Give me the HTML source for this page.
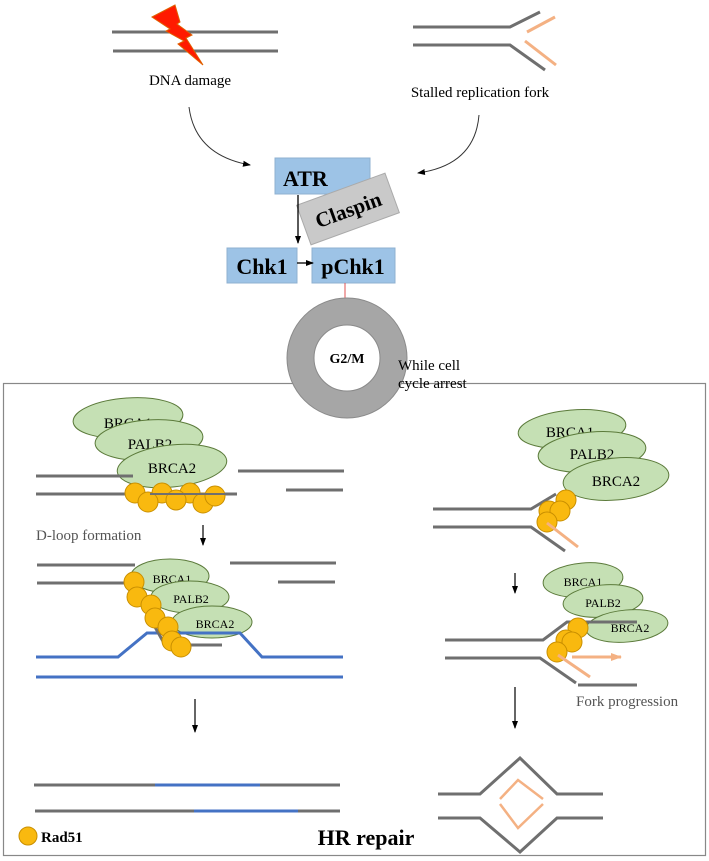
<!DOCTYPE html>
<html><head><meta charset="utf-8"><style>
html,body{margin:0;padding:0;background:#fff;}
svg{display:block;font-family:"Liberation Serif",serif;}
</style></head><body>
<svg width="709" height="861" viewBox="0 0 709 861" xmlns="http://www.w3.org/2000/svg">
<defs>
<marker id="ah" markerWidth="8" markerHeight="8" refX="7" refY="4" orient="auto" markerUnits="userSpaceOnUse"><path d="M0,1 L8,4 L0,7 Z" fill="#000"/></marker>
<marker id="oh" markerWidth="12" markerHeight="10" refX="10" refY="5" orient="auto" markerUnits="userSpaceOnUse"><path d="M0,1 L11,5 L0,9 Z" fill="#f4b183"/></marker>
</defs>
<g stroke="#6f6f6f" stroke-width="3" fill="none">
<line x1="112" y1="32" x2="278" y2="32"/><line x1="113" y1="51" x2="278" y2="51"/>
<polyline points="413,27 510,27 540,12"/><polyline points="413,45 510,45 545,70"/>
</g>
<g stroke="#f4b183" stroke-width="3" fill="none"><line x1="527" y1="32" x2="555" y2="17"/><line x1="525" y1="41" x2="556" y2="65"/></g>
<polygon points="152,17 175,5 180,22 177,24 192,35 186,38 203,65 178,44 184,41 166,31 170,29" fill="#ff1a00" stroke="#e06000" stroke-width="1"/>
<text x="190" y="85" font-size="15" text-anchor="middle">DNA damage</text>
<text x="480" y="97" font-size="15" text-anchor="middle">Stalled replication fork</text>
<path d="M189,107 Q195,155 250,165" stroke="#333" stroke-width="1" fill="none" marker-end="url(#ah)"/>
<path d="M479,115 Q475,165 418,173" stroke="#333" stroke-width="1" fill="none" marker-end="url(#ah)"/>
<rect x="275" y="158" width="95" height="36" fill="#9dc3e6" stroke="#8fb0d0"/>
<text x="283" y="186" font-size="22" font-weight="bold">ATR</text>
<g transform="rotate(-20 348 209)"><rect x="301" y="188" width="94" height="42" fill="#c9c9c9" stroke="#aaa"/>
<text x="348" y="217" font-size="21" font-weight="bold" text-anchor="middle">Claspin</text></g>
<line x1="298" y1="195" x2="298" y2="243" stroke="#000" stroke-width="1.3" marker-end="url(#ah)"/>
<rect x="227" y="248" width="70" height="35" fill="#9dc3e6" stroke="#8fb0d0"/>
<text x="262" y="274" font-size="22" font-weight="bold" text-anchor="middle">Chk1</text>
<rect x="312" y="248" width="83" height="35" fill="#9dc3e6" stroke="#8fb0d0"/>
<text x="353" y="274" font-size="22" font-weight="bold" text-anchor="middle">pChk1</text>
<line x1="297" y1="263" x2="313" y2="263" stroke="#000" stroke-width="1.3" marker-end="url(#ah)"/>
<line x1="345" y1="283" x2="345" y2="300" stroke="#e05050" stroke-width="1"/><line x1="338" y1="300" x2="353" y2="300" stroke="#e05050" stroke-width="1.2"/>
<rect x="3.5" y="383.5" width="702" height="472" fill="none" stroke="#888" stroke-width="1.2"/>
<circle cx="347" cy="358" r="46.5" fill="none" stroke="#a6a6a6" stroke-width="27"/>
<circle cx="347" cy="358" r="60" fill="none" stroke="#8a8a8a" stroke-width="1"/>
<circle cx="347" cy="358" r="33" fill="#fff" stroke="#8a8a8a" stroke-width="1"/>
<text x="347" y="363" font-size="14" font-weight="bold" text-anchor="middle">G2/M</text>
<text x="398" y="370" font-size="15">While cell</text>
<text x="398" y="388" font-size="15">cycle arrest</text>
<!-- left panel 1 -->
<g stroke="#5b7a3a" stroke-width="1" font-size="15" text-anchor="middle">
<ellipse cx="128" cy="418" rx="55" ry="20" transform="rotate(-4 128 418)" fill="#c5e0b4"/>
<text x="128" y="428" stroke="none">BRCA1</text>
<ellipse cx="149" cy="440" rx="54" ry="20" transform="rotate(-4 149 440)" fill="#c5e0b4"/>
<text x="150" y="449" stroke="none">PALB2</text>
<ellipse cx="172" cy="466" rx="55" ry="21" transform="rotate(-6 172 466)" fill="#c5e0b4"/>
<text x="172" y="473" stroke="none">BRCA2</text>
</g>
<g stroke="#6f6f6f" stroke-width="3" fill="none">
<line x1="36" y1="476" x2="133" y2="476"/><line x1="36" y1="494" x2="237" y2="494"/>
<line x1="238" y1="471" x2="344" y2="471"/><line x1="286" y1="490" x2="343" y2="490"/>
</g>
<g fill="#f9b90f" stroke="#c98f00" stroke-width="1">
<circle cx="135" cy="493" r="10"/><circle cx="162" cy="493" r="10"/><circle cx="190" cy="493" r="10"/>
<circle cx="148" cy="502" r="10"/><circle cx="176" cy="500" r="10"/><circle cx="203" cy="503" r="10"/><circle cx="215" cy="496" r="10"/>
</g>
<line x1="150" y1="494" x2="236" y2="494" stroke="#6f6f6f" stroke-width="2"/>
<text x="36" y="540" font-size="15" fill="#555">D-loop formation</text>
<line x1="203" y1="525" x2="203" y2="545" stroke="#000" stroke-width="1.2" marker-end="url(#ah)"/>
<!-- left panel 2 -->
<g stroke="#6f6f6f" stroke-width="3" fill="none">
<line x1="37" y1="565" x2="135" y2="565"/><line x1="37" y1="583" x2="135" y2="583"/>
<line x1="230" y1="563" x2="336" y2="563"/><line x1="278" y1="582" x2="335" y2="582"/>
</g>
<g stroke="#5b7a3a" stroke-width="1" font-size="12" text-anchor="middle">
<ellipse cx="170" cy="576" rx="39" ry="17" fill="#c5e0b4"/>
<text x="172" y="583" stroke="none">BRCA1</text>
<ellipse cx="190" cy="597" rx="39" ry="16" fill="#c5e0b4"/>
<text x="191" y="603" stroke="none">PALB2</text>
<ellipse cx="212" cy="622" rx="40" ry="16" fill="#c5e0b4"/>
<text x="215" y="628" stroke="none">BRCA2</text>
</g>
<g stroke="#4472c4" stroke-width="3" fill="none">
<polyline points="36,657 118,657 147,633 240,633 262,657 343,657"/>
<line x1="36" y1="677" x2="343" y2="677"/>
</g>
<polyline points="140,600 165,645 222,645" stroke="#6f6f6f" stroke-width="3" fill="none"/>
<g fill="#f9b90f" stroke="#c98f00" stroke-width="1">
<circle cx="134" cy="582" r="10"/><circle cx="137" cy="597" r="10"/><circle cx="151" cy="605" r="10"/>
<circle cx="155" cy="618" r="10"/><circle cx="168" cy="627" r="10"/><circle cx="172" cy="641" r="10"/><circle cx="181" cy="647" r="10"/>
</g>
<line x1="195" y1="699" x2="195" y2="732" stroke="#000" stroke-width="1.2" marker-end="url(#ah)"/>
<g stroke-width="3" fill="none">
<line x1="34" y1="785" x2="340" y2="785" stroke="#6f6f6f"/><line x1="155" y1="785" x2="260" y2="785" stroke="#4472c4"/>
<line x1="35" y1="811" x2="340" y2="811" stroke="#6f6f6f"/><line x1="194" y1="811" x2="298" y2="811" stroke="#4472c4"/>
</g>
<!-- right panel 1 -->
<g stroke="#5b7a3a" stroke-width="1" font-size="15" text-anchor="middle">
<ellipse cx="572" cy="429" rx="54" ry="19" transform="rotate(-5 572 429)" fill="#c5e0b4"/>
<text x="570" y="437" stroke="none">BRCA1</text>
<ellipse cx="592" cy="452" rx="54" ry="20" transform="rotate(-5 592 452)" fill="#c5e0b4"/>
<text x="592" y="459" stroke="none">PALB2</text>
<ellipse cx="616" cy="479" rx="53" ry="21" transform="rotate(-5 616 479)" fill="#c5e0b4"/>
<text x="616" y="486" stroke="none">BRCA2</text>
</g>
<g stroke="#6f6f6f" stroke-width="3" fill="none">
<polyline points="433,509 531,509 556,494"/><polyline points="433,527 531,527 565,551"/>
</g>
<g fill="#f9b90f" stroke="#c98f00" stroke-width="1">
<circle cx="566" cy="500" r="10"/><circle cx="549" cy="511" r="10"/><circle cx="560" cy="511" r="10"/><circle cx="547" cy="522" r="10"/>
</g>
<line x1="547" y1="523" x2="578" y2="547" stroke="#f4b183" stroke-width="3"/>
<line x1="515" y1="573" x2="515" y2="593" stroke="#000" stroke-width="1.2" marker-end="url(#ah)"/>
<!-- right panel 2 -->
<g stroke="#5b7a3a" stroke-width="1" font-size="12" text-anchor="middle">
<ellipse cx="583" cy="580" rx="40" ry="17" transform="rotate(-5 583 580)" fill="#c5e0b4"/>
<text x="583" y="586" stroke="none">BRCA1</text>
<ellipse cx="603" cy="601" rx="40" ry="16" transform="rotate(-5 603 601)" fill="#c5e0b4"/>
<text x="603" y="607" stroke="none">PALB2</text>
<ellipse cx="627" cy="626" rx="41" ry="16" transform="rotate(-5 627 626)" fill="#c5e0b4"/>
<text x="630" y="632" stroke="none">BRCA2</text>
</g>
<g stroke="#6f6f6f" stroke-width="3" fill="none">
<polyline points="445,640 543,640 567,622 637,622"/><polyline points="445,658 540,658 576,683"/>
<line x1="578" y1="685" x2="637" y2="685"/>
</g>
<g fill="#f9b90f" stroke="#c98f00" stroke-width="1">
<circle cx="578" cy="628" r="10"/><circle cx="566" cy="640" r="10"/><circle cx="572" cy="642" r="10"/><circle cx="557" cy="652" r="10"/>
</g>
<line x1="558" y1="655" x2="590" y2="677" stroke="#f4b183" stroke-width="3"/>
<line x1="572" y1="657" x2="621" y2="657" stroke="#f4b183" stroke-width="3" marker-end="url(#oh)"/>
<text x="576" y="706" font-size="15" fill="#555">Fork progression</text>
<line x1="515" y1="687" x2="515" y2="728" stroke="#000" stroke-width="1.2" marker-end="url(#ah)"/>
<g stroke="#6f6f6f" stroke-width="3" fill="none">
<polyline points="438,794 480,794 520,758 557,794 603,794"/>
<polyline points="438,818 480,818 520,852 557,818 603,818"/>
</g>
<g stroke="#f4b183" stroke-width="2.5" fill="none">
<polyline points="500,799 518,780 543,799"/><polyline points="500,804 518,828 543,804"/>
</g>
<circle cx="28" cy="836" r="9" fill="#f9b90f" stroke="#c98f00"/>
<text x="41" y="842" font-size="15" font-weight="bold">Rad51</text>
<text x="366" y="845" font-size="22" font-weight="bold" text-anchor="middle">HR repair</text>
</svg>
</body></html>
